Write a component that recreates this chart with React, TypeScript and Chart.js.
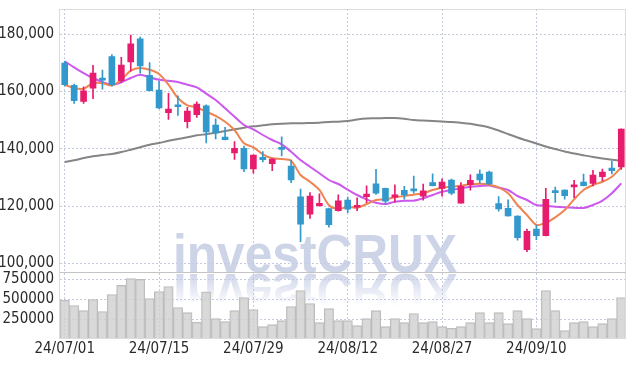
import React, { useEffect, useRef } from 'react';
import { Chart, registerables } from 'chart.js';
Chart.register(...registerables);

const dates = [
  '24/07/01','24/07/02','24/07/03','24/07/04','24/07/05','24/07/08','24/07/09','24/07/10','24/07/11','24/07/12',
  '24/07/15','24/07/16','24/07/17','24/07/18','24/07/19','24/07/22','24/07/23','24/07/24','24/07/25','24/07/26',
  '24/07/29','24/07/30','24/07/31','24/08/01','24/08/02','24/08/05','24/08/06','24/08/07','24/08/08','24/08/09',
  '24/08/12','24/08/13','24/08/14','24/08/16','24/08/19','24/08/20','24/08/21','24/08/22','24/08/23','24/08/26',
  '24/08/27','24/08/28','24/08/29','24/08/30','24/09/02','24/09/03','24/09/04','24/09/05','24/09/06','24/09/09',
  '24/09/10','24/09/11','24/09/12','24/09/13','24/09/19','24/09/20','24/09/23','24/09/24','24/09/25','24/09/26',
];

const opens = [
  170000,162200,156600,161200,164700,172200,163800,170400,178400,165700,
  160500,152600,155100,149500,151900,155000,148300,144100,138600,140200,
  133000,137000,134800,140300,134000,123200,117200,120100,119100,118400,
  122100,119600,123300,127800,126200,123100,125500,125600,123500,128200,
  126200,129100,121000,127500,131200,131900,120900,119200,116500,104800,
  112000,109700,125200,125600,126700,128400,127900,130300,133300,133700,
];
const highs = [
  170600,162600,161700,169200,167500,172900,172000,179700,179000,170100,
  163600,159400,158500,154500,156400,155400,150500,147500,142500,141000,
  137900,139000,136600,144200,136100,125900,124700,124300,119300,123900,
  123100,122900,127100,132800,126300,127400,126900,130500,127700,131300,
  129500,129400,128200,130900,132700,132200,123300,122200,116600,112000,
  113400,126200,126600,125700,129000,131200,132500,132900,135600,147000,
];
const lows = [
  162000,155900,155900,157500,160800,161900,163100,167100,166400,160200,
  154000,150300,151700,147300,151000,142100,143500,143100,136300,132000,
  131500,135400,132400,137500,128200,107600,115700,120000,112600,118200,
  117700,118400,121200,124100,120700,121400,122400,124500,122100,127000,
  123500,124000,121000,125600,127900,127500,118200,116500,108100,104100,
  108300,109600,121300,122400,122900,127000,127000,128800,131200,132800,
];
const closes = [
  162400,156800,160300,166500,164000,162400,169300,176700,169000,160300,
  154300,153900,154700,153200,155600,145900,145600,143200,140200,133000,
  137800,136200,136400,139800,129100,113700,123500,121000,113500,121800,
  118900,120000,124200,124500,121700,123900,123900,125300,125300,127100,
  128400,124500,126900,129000,129100,127700,119000,116600,109000,111200,
  109700,122400,124700,123600,127300,127100,130800,131900,132400,146900,
];
const volumes = [
  490000,425000,362000,500000,350000,562000,675000,762000,750000,512000,
  600000,662000,400000,337000,217000,595000,262000,225000,362000,525000,
  375000,162000,187000,237000,412000,612000,450000,212000,387000,237000,
  237000,175000,262000,362000,162000,262000,212000,325000,212000,225000,
  162000,142000,162000,212000,337000,212000,337000,200000,362000,262000,
  137000,612000,362000,112000,212000,225000,162000,200000,262000,525000,
];
const maShort = [
  162400,161240,161000,162940,162940,162190,164140,167290,168230,167600,
  166130,162400,157750,155200,154500,152960,151550,149470,146570,141930,
  140530,138080,136690,136440,135850,130850,128510,125620,120380,118980,
  119780,119430,120720,122120,122360,123060,123520,123970,124460,125620,
  126420,126770,127120,127610,127820,127470,126560,124460,120380,116880,
  113390,114190,116080,118630,122360,125620,127360,128510,130260,133550,
];
const maMid = [
  170570,168470,166480,164740,163340,162400,163230,164740,165890,164980,
  164140,163790,163340,162400,161490,159300,157050,154150,151220,148320,
  146820,144830,143080,141580,138990,136090,133750,131450,129110,127710,
  125740,123870,122360,121180,120720,121530,121880,121880,122720,123870,
  125020,125620,126210,126770,127010,127200,126420,125620,123520,122120,
  120380,120130,119780,119570,119430,119330,120380,121880,124460,127940,
];
const maLong = [
  135390,135990,136790,137380,137840,138190,138880,139690,140530,141440,
  142030,142830,143430,144020,144720,145120,145630,146220,146820,147380,
  147860,148210,148560,148770,148910,148910,149020,149140,149370,149480,
  149720,150240,150590,150660,150760,150760,150480,150070,149890,149720,
  149540,149370,149090,148740,148160,147450,146400,145170,143950,142900,
  141860,140810,139940,139060,138360,137740,137140,136620,136200,135850,
];
const priceTicks = [100000, 120000, 140000, 160000, 180000];
const volumeTicks = [250000, 500000, 750000];
const watermarkText = 'investCRUX';

const UP = '#e81c6c';
const DOWN = '#3399cc';
const GRID = '#c5cbdd';
const TEXT = '#2a2a2a';

export default function App() {
  const ref = useRef<HTMLCanvasElement>(null);
  useEffect(() => {
    document.body.style.margin = '0';
    const colors = closes.map((c, i) => (c >= opens[i] ? UP : DOWN));
    const font = { family: "'Liberation Sans Narrow', 'DejaVu Sans Condensed', 'Arial Narrow', sans-serif", size: 15 };

    const watermark = {
      id: 'watermark',
      beforeDatasetsDraw(chart: any) {
        const ctx = chart.ctx;
        const area = chart.chartArea;
        const base = chart.scales.yv.top;
        const x = area.left + 113;
        const w = 284;
        ctx.save();
        ctx.font = "bold 54px 'Liberation Sans', 'DejaVu Sans', sans-serif";
        ctx.textAlign = 'left';
        ctx.textBaseline = 'alphabetic';
        ctx.fillStyle = 'rgba(196,204,228,0.85)';
        ctx.fillText(watermarkText, x, base, w);
        ctx.translate(0, base * 2 + 2);
        ctx.scale(1, -1);
        const g = ctx.createLinearGradient(0, base, 0, base - 32);
        g.addColorStop(0, 'rgba(196,204,228,0.8)');
        g.addColorStop(1, 'rgba(196,204,228,0)');
        ctx.fillStyle = g;
        ctx.fillText(watermarkText, x, base, w);
        ctx.restore();
      },
    };

    const frame = {
      id: 'frame',
      afterDraw(chart: any) {
        const ctx = chart.ctx;
        const a = chart.chartArea;
        ctx.save();
        ctx.strokeStyle = '#dcdcdc';
        ctx.lineWidth = 1;
        ctx.strokeRect(Math.round(a.left) - 0.5, Math.round(a.top) + 0.5, Math.round(a.right - a.left), Math.round(a.bottom - a.top));
        const sy = Math.round(chart.scales.yv.top) + 0.5;
        ctx.strokeStyle = '#c4c4c4';
        ctx.beginPath();
        ctx.moveTo(a.left, sy);
        ctx.lineTo(a.right, sy);
        ctx.stroke();
        ctx.restore();
      },
    };

    const line = (data: number[], color: string, order: number) => ({
      type: 'line' as const,
      data,
      borderColor: color,
      borderWidth: 2,
      pointRadius: 0,
      tension: 0.3,
      yAxisID: 'y',
      order,
    });

    const fitY = (s: any) => {
      s.width = 60;
      s.paddingTop = 0;
      s.paddingBottom = 0;
    };

    const chart = new Chart(ref.current as HTMLCanvasElement, {
      data: {
        labels: dates,
        datasets: [
          {
            type: 'bar',
            data: volumes,
            backgroundColor: 'rgba(208,208,208,0.8)',
            borderColor: '#bcbcbc',
            borderWidth: 1,
            categoryPercentage: 1,
            barPercentage: 1,
            grouped: false,
            yAxisID: 'yv',
            order: 10,
          } as any,
          line(maLong, '#858585', 5),
          line(maMid, '#cc58ee', 4),
          line(maShort, '#ef8450', 3),
          {
            type: 'bar',
            data: lows.map((l, i) => [l, highs[i]]),
            backgroundColor: colors,
            barThickness: 1,
            grouped: false,
            yAxisID: 'y',
            order: 2,
          } as any,
          {
            type: 'bar',
            data: opens.map((o, i) => [o, closes[i]]),
            backgroundColor: colors,
            barThickness: 6,
            minBarLength: 2,
            grouped: false,
            yAxisID: 'y',
            order: 1,
          } as any,
        ],
      },
      options: {
        animation: false,
        responsive: true,
        maintainAspectRatio: false,
        layout: { padding: { left: 0, right: 8, top: 9, bottom: 0 } },
        plugins: { legend: { display: false }, tooltip: { enabled: false } },
        scales: {
          x: {
            type: 'category',
            offset: true,
            grid: { offset: false, color: GRID, drawTicks: false },
            border: { display: false, dash: [2, 2] },
            ticks: { autoSkip: false, maxRotation: 0, padding: 2, font, color: TEXT },
            afterBuildTicks: (s: any) => {
              s.ticks = s.ticks.filter((t: any) => t.value % 10 === 0);
            },
            afterFit: (s: any) => {
              s.height = 28;
              s.paddingLeft = 0;
              s.paddingRight = 0;
            },
          },
          yv: {
            type: 'linear',
            position: 'left',
            stack: 'panels',
            stackWeight: 1,
            min: 20000,
            max: 840000,
            grid: { color: GRID, drawTicks: false },
            border: { display: false, dash: [2, 2] },
            ticks: { autoSkip: false, padding: 6, font, color: TEXT, callback: (v: any) => String(v) },
            afterBuildTicks: (s: any) => {
              s.ticks = volumeTicks.map((v) => ({ value: v }));
            },
            afterFit: fitY,
          },
          y: {
            type: 'linear',
            position: 'left',
            stack: 'panels',
            stackWeight: 4,
            min: 96900,
            max: 188850,
            grid: { color: GRID, drawTicks: false },
            border: { display: false, dash: [2, 2] },
            ticks: { autoSkip: false, padding: 6, font, color: TEXT, callback: (v: any) => Number(v).toLocaleString('en-US') },
            afterBuildTicks: (s: any) => {
              s.ticks = priceTicks.map((v) => ({ value: v }));
            },
            afterFit: fitY,
          },
        } as any,
      },
      plugins: [watermark, frame],
    } as any);
    return () => chart.destroy();
  }, []);
  return (
    <div style={{ position: 'fixed', left: 0, top: 0, width: 634, height: 366 }}>
      <canvas ref={ref} />
    </div>
  );
}
